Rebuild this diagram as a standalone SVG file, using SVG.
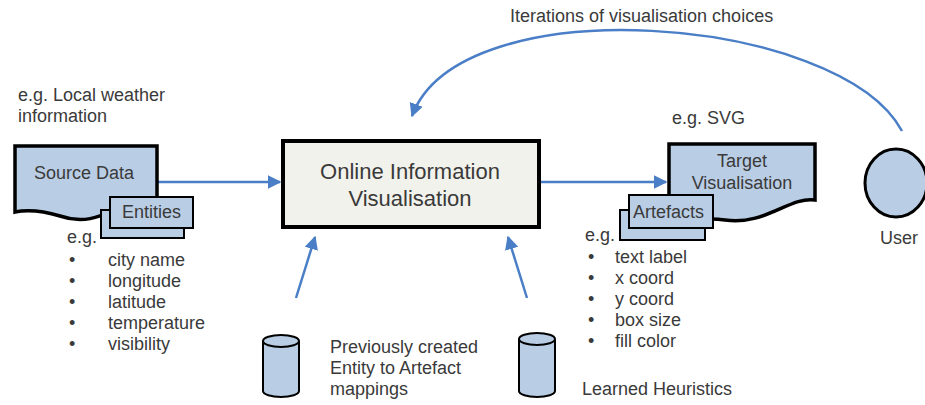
<svg xmlns="http://www.w3.org/2000/svg" width="925" height="405" viewBox="0 0 925 405">
<defs>
<style>
text{font-family:"Liberation Sans",Arial,sans-serif;fill:#3a3a3a;font-size:18px}
.shape{fill:#B9CDE5;stroke:#000;stroke-width:2}
.thick{fill:#B9CDE5;stroke:#000;stroke-width:3.5}
.conn{fill:none;stroke:#4A7EC6;stroke-width:2.5}
.big{font-size:22px}
</style>
<marker id="ah" viewBox="0 0 10 10" refX="9" refY="5" markerWidth="5.5" markerHeight="5.5" orient="auto" markerUnits="strokeWidth">
<path d="M0,0 L10,5 L0,10 z" fill="#4A7EC6"/>
</marker>
</defs>
<rect width="925" height="405" fill="#fff"/>
<g id="connectors">
<line class="conn" x1="158" y1="182" x2="280" y2="182" marker-end="url(#ah)"/>
<line class="conn" x1="540" y1="182" x2="666" y2="182" marker-end="url(#ah)"/>
<line class="conn" x1="296" y1="298" x2="315" y2="237" marker-end="url(#ah)"/>
<line class="conn" x1="527" y1="298" x2="508" y2="237" marker-end="url(#ah)"/>
<path class="conn" d="M902,131 C840,15 460,-15 412,116" marker-end="url(#ah)"/>
</g>
<g id="label-iterations"><text x="510" y="22">Iterations of visualisation choices</text></g>
<g id="source-data">
<path class="thick" d="M15,146 H157 V200 C120,198 100,230 60,216 C40,210 25,210 15,212 Z"/>
<text x="34" y="179">Source Data</text>
</g>
<g id="source-note">
<text x="18" y="101">e.g. Local weather</text>
<text x="18" y="122">information</text>
</g>
<g id="entities">
<rect class="shape" x="101" y="210" width="83" height="28"/>
<rect class="shape" x="110" y="197" width="83" height="31"/>
<text x="122" y="218">Entities</text>
</g>
<g id="entity-list">
<text x="67" y="243">e.g.</text>
<text x="69" y="266">•</text><text x="108" y="266">city name</text>
<text x="69" y="287">•</text><text x="108" y="287">longitude</text>
<text x="69" y="308">•</text><text x="108" y="308">latitude</text>
<text x="69" y="329">•</text><text x="108" y="329">temperature</text>
<text x="69" y="350">•</text><text x="108" y="350">visibility</text>
</g>
<g id="online-vis">
<rect x="283" y="141" width="256" height="86" fill="#F2F2EC" stroke="#000" stroke-width="4"/>
<text class="big" x="410" y="179" text-anchor="middle">Online Information</text>
<text class="big" x="410" y="206" text-anchor="middle">Visualisation</text>
</g>
<g id="target-note"><text x="672" y="124">e.g. SVG</text></g>
<g id="target-vis">
<path class="thick" d="M669,144 H815 V200 C790,196 765,226 725,220 C705,217 690,221 669,221 Z"/>
<text x="742" y="167" text-anchor="middle">Target</text>
<text x="742" y="189" text-anchor="middle">Visualisation</text>
</g>
<g id="artefacts">
<rect class="shape" x="620" y="210" width="85" height="30"/>
<rect class="shape" x="629" y="195" width="84" height="33"/>
<text x="633" y="218">Artefacts</text>
</g>
<g id="artefact-list">
<text x="585" y="241">e.g.</text>
<text x="588" y="263">•</text><text x="615" y="263">text label</text>
<text x="588" y="284">•</text><text x="615" y="284">x coord</text>
<text x="588" y="305">•</text><text x="615" y="305">y coord</text>
<text x="588" y="326">•</text><text x="615" y="326">box size</text>
<text x="588" y="347">•</text><text x="615" y="347">fill color</text>
</g>
<g id="user">
<ellipse cx="896" cy="183" rx="31" ry="34" fill="#B9CDE5" stroke="#000" stroke-width="3"/>
<text x="880" y="244">User</text>
</g>
<g id="mappings-db">
<path class="shape" d="M263,341 V391 A18,6 0 0 0 299,391 V341"/>
<ellipse class="shape" cx="281" cy="341" rx="18" ry="6"/>
<text x="330" y="353">Previously created</text>
<text x="330" y="374">Entity to Artefact</text>
<text x="330" y="395">mappings</text>
</g>
<g id="heuristics-db">
<path class="shape" d="M519,339 V391 A18,6 0 0 0 555,391 V339"/>
<ellipse class="shape" cx="537" cy="339" rx="18" ry="6"/>
<text x="582" y="395">Learned Heuristics</text>
</g>
</svg>
